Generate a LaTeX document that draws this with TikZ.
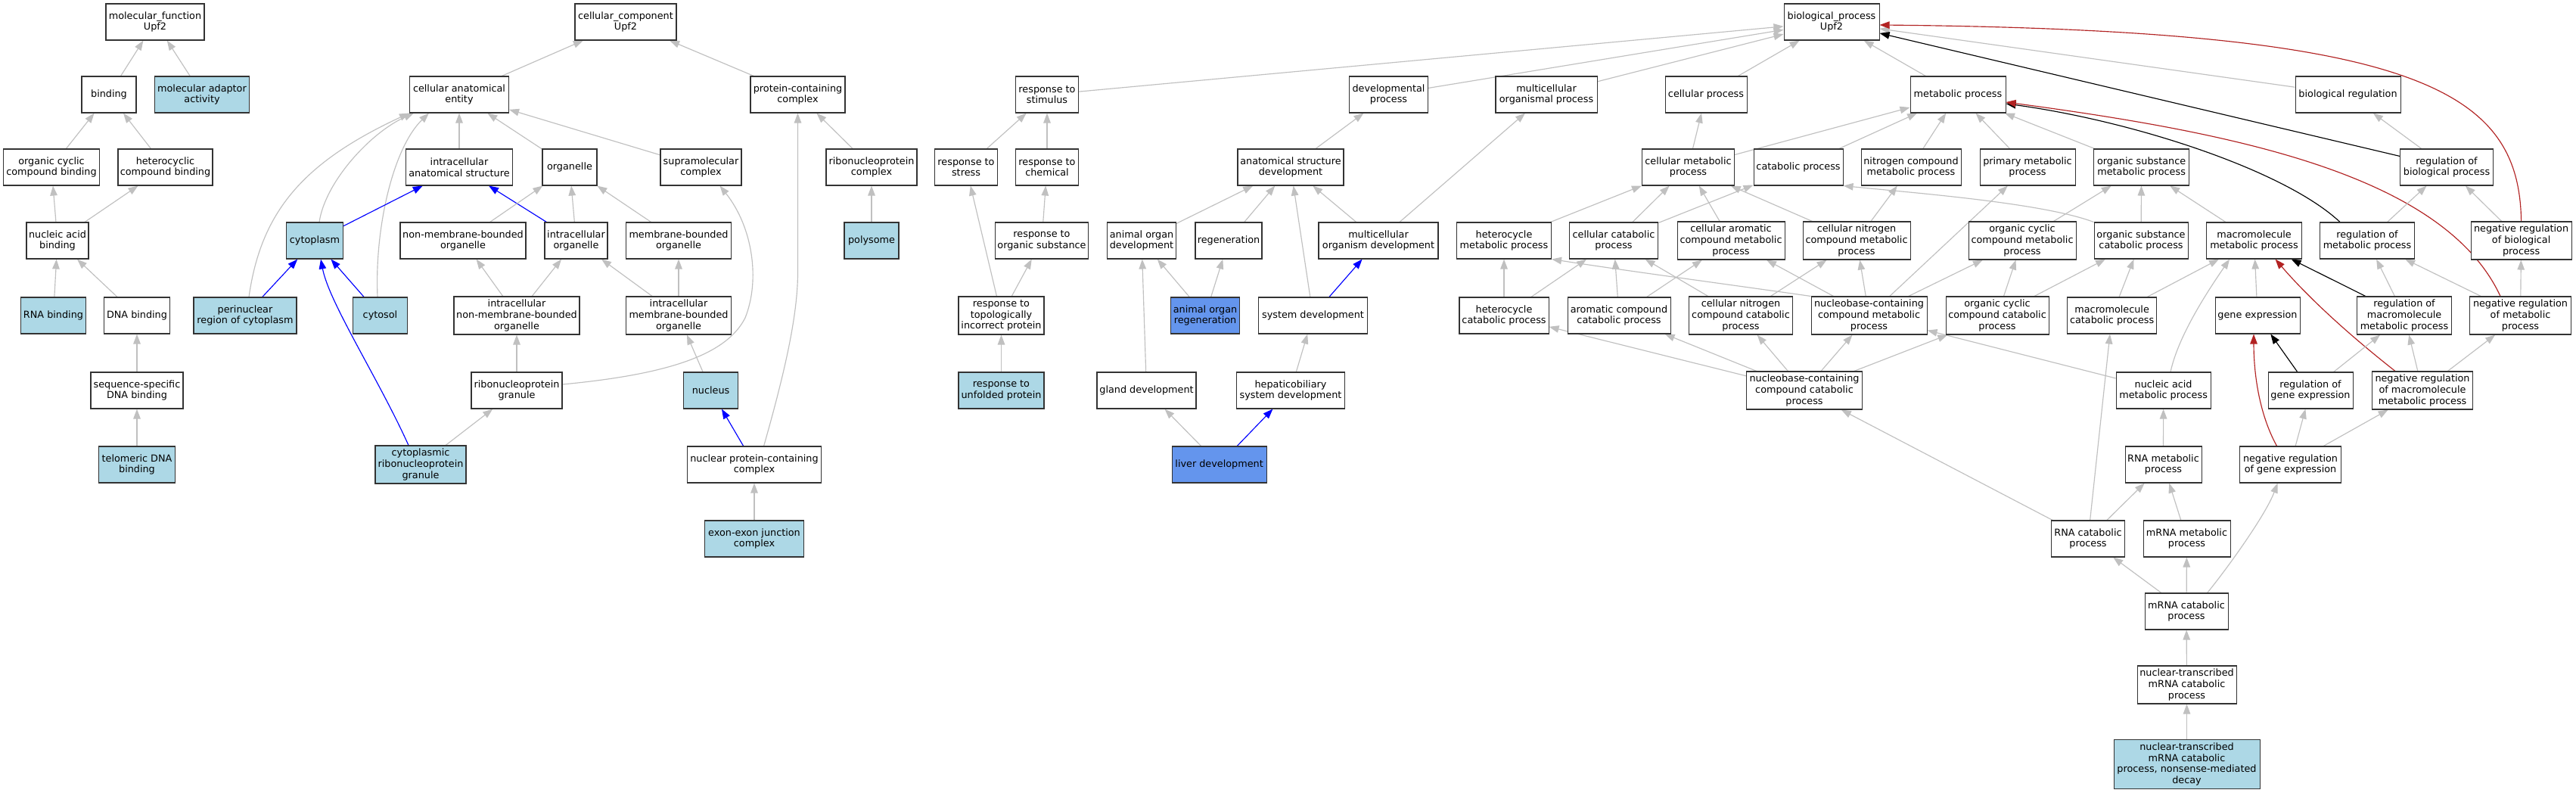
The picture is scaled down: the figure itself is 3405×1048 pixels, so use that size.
\documentclass[tikz,border=0pt]{standalone}
\usepackage{fontspec}
\setmainfont{DejaVu Sans}
\usetikzlibrary{arrows.meta,calc}
\definecolor{lightblue}{HTML}{ADD8E6}
\definecolor{cornflower}{HTML}{6495ED}
\definecolor{edgegray}{HTML}{C0C0C0}
\definecolor{firebrick}{HTML}{B22222}
\pgfdeclarelayer{bg}
\pgfsetlayers{bg,main}
\tikzset{
  box/.style={draw=black!80, line width=1.05pt, fill=white, align=center, inner sep=2pt,
    minimum height=48pt, font=\fontsize{12.8}{14.6}\selectfont},
  lb/.style={box, fill=lightblue},
  cb/.style={box, fill=cornflower},
  tall/.style={minimum height=50pt},
  edgebase/.style={line width=1.15pt, -{Triangle[length=13pt,width=9.5pt]}},
  ge/.style={edgebase, draw=edgegray},
  be/.style={edgebase, draw=blue},
  ke/.style={edgebase, draw=black},
  re/.style={edgebase, draw=firebrick},
}
\begin{document}
\begin{tikzpicture}[x=1pt,y=-1pt]
\useasboundingbox (0,0) rectangle (3405,1048);
\begin{pgfonlayer}{bg}
\fill[white] (0,0) rectangle (3405,1048);
\end{pgfonlayer}
% ---------------- molecular function ----------------
\node[box, minimum width=130pt] (mf) at (205,29) {molecular\_function\\Upf2};
\node[box, minimum width=72pt] (binding) at (144,125) {binding};
\node[lb, minimum width=125pt] (mad) at (267,125) {molecular adaptor\\activity};
\node[box, minimum width=127pt] (occb) at (68,221) {organic cyclic\\compound binding};
\node[box, minimum width=125pt] (hcb) at (218.5,221) {heterocyclic\\compound binding};
\node[box, minimum width=82pt] (nab) at (76,318) {nucleic acid\\binding};
\node[lb, minimum width=86pt] (rnab) at (70.5,417) {RNA binding};
\node[box, minimum width=87pt] (dnab) at (181,417) {DNA binding};
\node[box, minimum width=122pt] (ssdb) at (181,516) {sequence-specific\\DNA binding};
\node[lb, minimum width=101pt] (tdb) at (181,614) {telomeric DNA\\binding};
% ---------------- cellular component ----------------
\node[box, minimum width=134pt] (cc) at (827,29) {cellular\_component\\Upf2};
\node[box, minimum width=131pt] (cae) at (607,125) {cellular anatomical\\entity};
\node[box, minimum width=125pt] (pcc) at (1054.5,125) {protein-containing\\complex};
\node[box, minimum width=141pt] (ias) at (607,221) {intracellular\\anatomical structure};
\node[box, minimum width=72pt] (org) at (753,221) {organelle};
\node[box, minimum width=107pt] (supra) at (926.5,221) {supramolecular\\complex};
\node[box, minimum width=120pt] (rnpc) at (1152,221) {ribonucleoprotein\\complex};
\node[lb, minimum width=75pt] (cyto) at (416,318) {cytoplasm};
\node[box, minimum width=166pt] (nmbo) at (612,318) {non-membrane-bounded\\organelle};
\node[box, minimum width=83pt] (io) at (761.5,318) {intracellular\\organelle};
\node[box, minimum width=139pt] (mbo) at (897,318) {membrane-bounded\\organelle};
\node[lb, minimum width=72pt] (poly) at (1152,318) {polysome};
\node[lb, minimum width=136pt] (peri) at (324,417) {perinuclear\\region of cytoplasm};
\node[lb, minimum width=72pt] (cytosol) at (502.5,417) {cytosol};
\node[box, tall, minimum width=166pt] (inmbo) at (683,417) {intracellular\\non-membrane-bounded\\organelle};
\node[box, tall, minimum width=139pt] (imbo) at (897,417) {intracellular\\membrane-bounded\\organelle};
\node[box, minimum width=120pt] (rnpg) at (683,516) {ribonucleoprotein\\granule};
\node[lb, minimum width=72pt] (nucleus) at (939.6,516) {nucleus};
\node[lb, tall, minimum width=120pt] (crnpg) at (556,614) {cytoplasmic\\ribonucleoprotein\\granule};
\node[box, minimum width=177pt] (npcc) at (997,614) {nuclear protein-containing\\complex};
\node[lb, minimum width=131pt] (ejc) at (997,712) {exon-exon junction\\complex};
% ---------------- biological process ----------------
\node[box, minimum width=126pt] (bp) at (2421,29) {biological\_process\\Upf2};
\node[box, minimum width=83pt] (rts) at (1384,125) {response to\\stimulus};
\node[box, minimum width=104pt] (dp) at (1835.5,125) {developmental\\process};
\node[box, minimum width=134pt] (mop) at (2044,125) {multicellular\\organismal process};
\node[box, minimum width=108pt] (cp) at (2255,125) {cellular process};
\node[box, minimum width=126pt] (mp) at (2588,125) {metabolic process};
\node[box, minimum width=139pt] (br) at (3103.5,125) {biological regulation};
\node[box, minimum width=83pt] (rstress) at (1277,221) {response to\\stress};
\node[box, minimum width=83pt] (rchem) at (1384,221) {response to\\chemical};
\node[box, minimum width=140pt] (asd) at (1706,221) {anatomical structure\\development};
\node[box, minimum width=122pt] (cmp) at (2231.5,221) {cellular metabolic\\process};
\node[box, minimum width=118pt] (catp) at (2377,221) {catabolic process};
\node[box, minimum width=132pt] (ncmp) at (2526,221) {nitrogen compound\\metabolic process};
\node[box, minimum width=126pt] (pmp) at (2680,221) {primary metabolic\\process};
\node[box, minimum width=126pt] (osmp) at (2830.6,221) {organic substance\\metabolic process};
\node[box, minimum width=123pt] (rbp) at (3234,221) {regulation of\\biological process};
\node[box, minimum width=123pt] (ros) at (1377,318) {response to\\organic substance};
\node[box, minimum width=91pt] (aod) at (1509,318) {animal organ\\development};
\node[box, minimum width=88pt] (regen) at (1624,318) {regeneration};
\node[box, minimum width=158pt] (mod) at (1822,318) {multicellular\\organism development};
\node[box, minimum width=125pt] (hmp) at (1988,318) {heterocycle\\metabolic process};
\node[box, minimum width=117pt] (ccp) at (2133,318) {cellular catabolic\\process};
\node[box, tall, minimum width=142pt] (cacmp) at (2288,318) {cellular aromatic\\compound metabolic\\process};
\node[box, tall, minimum width=142pt] (cncmp) at (2454,318) {cellular nitrogen\\compound metabolic\\process};
\node[box, tall, minimum width=142pt] (occmp) at (2673,318) {organic cyclic\\compound metabolic\\process};
\node[box, minimum width=124pt] (oscp) at (2830,318) {organic substance\\catabolic process};
\node[box, minimum width=126pt] (mmp) at (2979.5,318) {macromolecule\\metabolic process};
\node[box, minimum width=125pt] (rmp) at (3129,318) {regulation of\\metabolic process};
\node[box, tall, minimum width=133pt] (nrbp) at (3332.6,318) {negative regulation\\of biological\\process};
\node[box, tall, minimum width=113pt] (rtip) at (1323.5,417) {response to\\topologically\\incorrect protein};
\node[cb, minimum width=91pt] (aor) at (1593,417) {animal organ\\regeneration};
\node[box, minimum width=144pt] (sysd) at (1735.5,417) {system development};
\node[box, minimum width=118pt] (hcp) at (1988,417) {heterocycle\\catabolic process};
\node[box, minimum width=136pt] (accp) at (2140,417) {aromatic compound\\catabolic process};
\node[box, tall, minimum width=137pt] (cnccp) at (2301,417) {cellular nitrogen\\compound catabolic\\process};
\node[box, tall, minimum width=153pt] (nbcmp) at (2470.5,417) {nucleobase-containing\\compound metabolic\\process};
\node[box, tall, minimum width=136pt] (occcp) at (2640,417) {organic cyclic\\compound catabolic\\process};
\node[box, minimum width=118pt] (mcp) at (2791.6,417) {macromolecule\\catabolic process};
\node[box, minimum width=112pt] (ge) at (2984,417) {gene expression};
\node[box, tall, minimum width=125pt] (rmmp) at (3178,417) {regulation of\\macromolecule\\metabolic process};
\node[box, tall, minimum width=134pt] (nrmp) at (3331.5,417) {negative regulation\\of metabolic\\process};
\node[lb, minimum width=113pt] (rup) at (1323.5,516) {response to\\unfolded protein};
\node[box, minimum width=131pt] (gland) at (1515.5,516) {gland development};
\node[box, minimum width=143pt] (hsd) at (1706,516) {hepaticobiliary\\system development};
\node[box, tall, minimum width=153pt] (nbccp) at (2385,516) {nucleobase-containing\\compound catabolic\\process};
\node[box, minimum width=125pt] (namp) at (2859.6,516) {nucleic acid\\metabolic process};
\node[box, minimum width=112pt] (rge) at (3054,516) {regulation of\\gene expression};
\node[box, tall, minimum width=133pt] (nrmmp) at (3202,516) {negative regulation\\of macromolecule\\metabolic process};
\node[cb, minimum width=125pt] (liver) at (1611.6,614) {liver development};
\node[box, minimum width=101pt] (rnamp) at (2859.5,614) {RNA metabolic\\process};
\node[box, minimum width=134pt] (ngre) at (3027.5,614) {negative regulation\\of gene expression};
\node[box, minimum width=97pt] (rnacp) at (2760,712) {RNA catabolic\\process};
\node[box, minimum width=115pt] (mrnamp) at (2890.5,712) {mRNA metabolic\\process};
\node[box, minimum width=110pt] (mrnacp) at (2890,808) {mRNA catabolic\\process};
\node[box, tall, minimum width=131pt] (ntmcp) at (2890.5,905) {nuclear-transcribed\\mRNA catabolic\\process};
\node[lb, minimum height=65pt, minimum width=193pt] (nmd) at (2890.5,1010) {nuclear-transcribed\\mRNA catabolic\\process, nonsense-mediated\\decay};
% ---------------- edges ----------------
\begin{pgfonlayer}{bg}
% MF
\draw[ge] (binding) -- (mf);
\draw[ge] (mad) -- (mf);
\draw[ge] (occb) -- (binding);
\draw[ge] (hcb) -- (binding);
\draw[ge] (nab) -- (occb);
\draw[ge] (nab) -- (hcb);
\draw[ge] (rnab) -- (nab);
\draw[ge] (dnab) -- (nab);
\draw[ge] (ssdb) -- (dnab);
\draw[ge] (tdb) -- (ssdb);
% CC
\draw[ge] (cae) -- (cc);
\draw[ge] (pcc) -- (cc);
\draw[ge] (ias) -- (cae);
\draw[ge] (org) -- (cae);
\draw[ge] (supra) -- (cae);
\draw[ge] ($(peri.north)+(5,0)$) .. controls (345,280) and (400,215) .. (cae.south west);
\draw[ge] ($(cyto.north)+(6,0)$) .. controls (430,240) and (490,175) .. ($(cae.south west)+(6,0)$);
\draw[ge] ($(cytosol.north)+(-3.5,0)$) .. controls (495,300) and (520,195) .. ($(cae.south west)+(26,0)$);
\draw[be] (cyto) -- (ias);
\draw[be] (io) -- (ias);
\draw[ge] (nmbo) -- (org);
\draw[ge] (io) -- (org);
\draw[ge] (mbo) -- (org);
\draw[be] (peri) -- (cyto);
\draw[be] ($(crnpg.north)+(-16,0)$) .. controls (500,500) and (435,400) .. ($(cyto.south)+(8,0)$);
\draw[be] (cytosol) -- (cyto);
\draw[ge] (inmbo) -- (nmbo);
\draw[ge] (inmbo) -- (io);
\draw[ge] (imbo) -- (io);
\draw[ge] (imbo) -- (mbo);
\draw[ge] (rnpg) -- (inmbo);
\draw[ge] ($(rnpg.east)+(0,-8)$) .. controls (880,495) and (960,470) .. (985,420) .. controls (1005,370) and (995,300) .. ($(supra.south)+(25,0)$);
\draw[ge] (crnpg) -- (rnpg);
\draw[ge] (nucleus) -- (imbo);
\draw[be] (npcc) -- (nucleus);
\draw[ge] ($(npcc.north)+(12.6,0)$) .. controls (1035,500) and (1054.5,420) .. (1054.5,360) -- (pcc.south);
\draw[ge] (ejc) -- (npcc);
\draw[ge] (rnpc) -- (pcc);
\draw[ge] (poly) -- (rnpc);
% BP top
\draw[ge] (rts) -- (bp);
\draw[ge] (dp) -- (bp);
\draw[ge] (mop) -- (bp);
\draw[ge] (cp) -- (bp);
\draw[ge] (mp) -- (bp);
\draw[ge] (br) -- (bp);
\draw[ke] (rbp) -- (bp);
\draw[re] (nrbp.north) .. controls (3330,120) and (3200,40) .. ($(bp.east)+(0,4)$);
% response branch
\draw[ge] (rstress) -- (rts);
\draw[ge] (rchem) -- (rts);
\draw[ge] (ros) -- (rchem);
\draw[ge] (rtip) -- (ros);
\draw[ge] (rtip) -- (rstress);
\draw[ge] (rup) -- (rtip);
% development branch
\draw[ge] (asd) -- (dp);
\draw[ge] ($(mod.north)+(28,0)$) -- ($(mop.south)+(-28,0)$);
\draw[ge] (aod) -- (asd);
\draw[ge] (regen) -- (asd);
\draw[ge] (sysd) -- (asd);
\draw[ge] (mod) -- (asd);
\draw[be] (sysd) -- (mod);
\draw[ge] (hsd) -- (sysd);
\draw[be] (liver) -- (hsd);
\draw[ge] (liver) -- (gland);
\draw[ge] (gland) -- (aod);
\draw[ge] (aor) -- (aod);
\draw[ge] (aor) -- (regen);
% metabolism
\draw[ge] (cmp) -- (cp);
\draw[ge] (cmp) -- (mp);
\draw[ge] (catp) -- (mp);
\draw[ge] (ncmp) -- (mp);
\draw[ge] (pmp) -- (mp);
\draw[ge] (osmp) -- (mp);
\draw[ge] (rbp) -- (br);
\draw[ke] ($(rmp.north)+(-36,0)$) .. controls (3020,225) and (2820,160) .. ($(mp.east)+(0,12)$);
\draw[re] ($(nrmp.north)+(-26.5,0)$) .. controls (3230,230) and (2950,175) .. ($(mp.east)+(0,10)$);
\draw[ge] (hmp) -- (cmp);
\draw[ge] (ccp) -- (cmp);
\draw[ge] (cacmp) -- (cmp);
\draw[ge] (cncmp) -- (cmp);
\draw[ge] (ccp) -- (catp);
\draw[ge] (oscp.north west) .. controls (2700,268) and (2530,255) .. (catp.south east);
\draw[ge] (cncmp) -- (ncmp);
\draw[ge] (nbcmp) -- (pmp);
\draw[ge] (occmp) -- (osmp);
\draw[ge] (oscp) -- (osmp);
\draw[ge] (mmp) -- (osmp);
\draw[ge] (rmp) -- (rbp);
\draw[ge] (nrbp) -- (rbp);
\draw[ge] (hcp) -- (hmp);
\draw[ge] (hcp) -- (ccp);
\draw[ge] (accp) -- (ccp);
\draw[ge] (accp) -- (cacmp);
\draw[ge] (cnccp) -- (ccp);
\draw[ge] (cnccp) -- (cncmp);
\draw[ge] (nbcmp) -- (cacmp);
\draw[ge] (nbcmp) -- (cncmp);
\draw[ge] (nbcmp) -- (occmp);
\draw[ge] (nbcmp.north west) .. controls (2300,378) and (2150,358) .. (hmp.south east);
\draw[ge] (occcp) -- (occmp);
\draw[ge] (occcp) -- (oscp);
\draw[ge] (mcp) -- (oscp);
\draw[ge] (mcp) -- (mmp);
\draw[ge] ($(namp.north)+(9.4,0)$) .. controls (2880,440) and (2925,375) .. ($(mmp.south)+(-32.5,0)$);
\draw[ge] (ge) -- (mmp);
\draw[ke] (rmmp) -- (mmp);
\draw[re] ($(nrmmp.north)+(-36,0)$) .. controls (3103,441) and (3050,392) .. ($(mmp.south)+(28,0)$);
\draw[ge] (rmmp) -- (rmp);
\draw[ge] (nrmp) -- (rmp);
\draw[ge] (nrmp) -- (nrbp);
\draw[ge] (nbccp) -- (hcp);
\draw[ge] (nbccp) -- (accp);
\draw[ge] (nbccp) -- (cnccp);
\draw[ge] (nbccp) -- (nbcmp);
\draw[ge] (nbccp) -- (occcp);
\draw[ge] (namp) -- (nbcmp);
\draw[ke] (rge) -- (ge);
\draw[re] ($(ngre.north)+(-18,0)$) .. controls (2985,545) and (2979,490) .. ($(ge.south)+(-5,0)$);
\draw[ge] (rge) -- (rmmp);
\draw[ge] (nrmmp) -- (rmmp);
\draw[ge] (nrmmp) -- (nrmp);
\draw[ge] (rnamp) -- (namp);
\draw[ge] (ngre) -- (rge);
\draw[ge] (ngre) -- (nrmmp);
\draw[ge] (rnacp) -- (nbccp);
\draw[ge] (rnacp) -- (mcp);
\draw[ge] (rnacp) -- (rnamp);
\draw[ge] (mrnamp) -- (rnamp);
\draw[ge] (mrnacp) -- (rnacp);
\draw[ge] (mrnacp) -- (mrnamp);
\draw[ge] ($(mrnacp.north)+(27.6,0)$) .. controls (2945,750) and (2995,680) .. ($(ngre.south)+(-17,0)$);
\draw[ge] (ntmcp) -- (mrnacp);
\draw[ge] (nmd) -- (ntmcp);
\end{pgfonlayer}
\end{tikzpicture}
\end{document}
